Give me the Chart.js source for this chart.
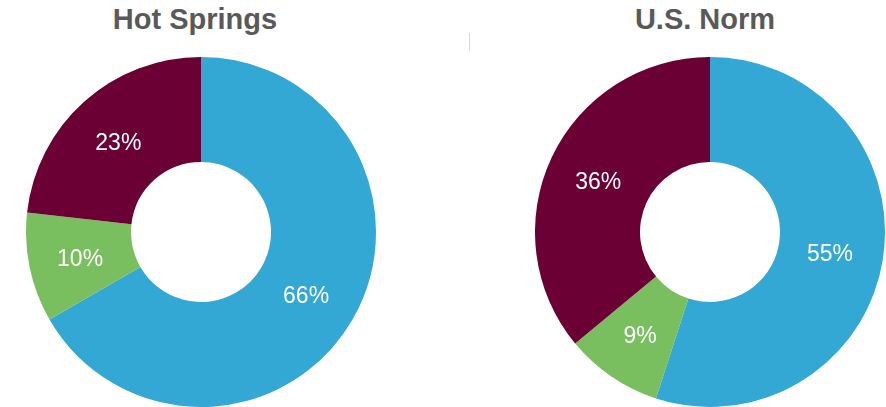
<!DOCTYPE html>
<html>
<head>
<meta charset="utf-8">
<script src="https://cdn.jsdelivr.net/npm/chart.js@4/dist/chart.umd.min.js"></script>
<style>
  html, body { margin: 0; padding: 0; background: #ffffff; overflow: hidden; }
  body { width: 886px; height: 407px; position: relative; font-family: "Liberation Sans", Arial, sans-serif; }
  .title { position: absolute; top: 5px; height: 29px; line-height: 29px; font-size: 29px; font-weight: bold;
           color: #595959; text-align: center; white-space: nowrap; }
  .pie { position: absolute; top: 57px; width: 350px; height: 350px; }
  .divider { position: absolute; left: 469px; top: 33px; width: 1px; height: 18px; background: #d9d9d9; }
</style>
</head>
<body>
<div class="title" style="left:95px;width:200px;">Hot Springs</div>
<div class="title" style="left:605px;width:200px;">U.S. Norm</div>
<div class="divider"></div>
<div class="pie" style="left:26px;"><canvas id="hotSprings"></canvas></div>
<div class="pie" style="left:535px;"><canvas id="usNorm"></canvas></div>
<script>
// Share of each group, in percent
const categories = ['Group A', 'Group B', 'Group C'];
const hotSpringsValues = [66, 10, 23];
const usNormValues = [55, 9, 36];
const segmentColors = ['#33A8D4', '#79BF5F', '#6A0033'];

// Writes each slice's percentage in the middle of its ring segment
const sliceLabels = {
  id: 'sliceLabels',
  afterDatasetsDraw(chart) {
    const ctx = chart.ctx;
    const values = chart.data.datasets[0].data;
    const meta = chart.getDatasetMeta(0);
    ctx.save();
    ctx.fillStyle = '#ffffff';
    ctx.font = '23px "Liberation Sans", Arial, sans-serif';
    ctx.textAlign = 'center';
    ctx.textBaseline = 'middle';
    meta.data.forEach((arc, i) => {
      const p = arc.tooltipPosition();
      ctx.fillText(values[i] + '%', p.x - 1, p.y + 3);
    });
    ctx.restore();
  }
};

function makeDoughnut(id, values) {
  return new Chart(document.getElementById(id), {
    type: 'doughnut',
    data: {
      labels: categories,
      datasets: [{
        data: values,
        backgroundColor: segmentColors,
        borderWidth: 0,
        hoverOffset: 0,
        offset: 0
      }]
    },
    options: {
      responsive: true,
      maintainAspectRatio: false,
      animation: false,
      cutout: '40%',
      layout: { padding: 0 },
      plugins: {
        legend: { display: false },
        tooltip: { enabled: false },
        title: { display: false }
      }
    },
    plugins: [sliceLabels]
  });
}

makeDoughnut('hotSprings', hotSpringsValues);
makeDoughnut('usNorm', usNormValues);
</script>
</body>
</html>
